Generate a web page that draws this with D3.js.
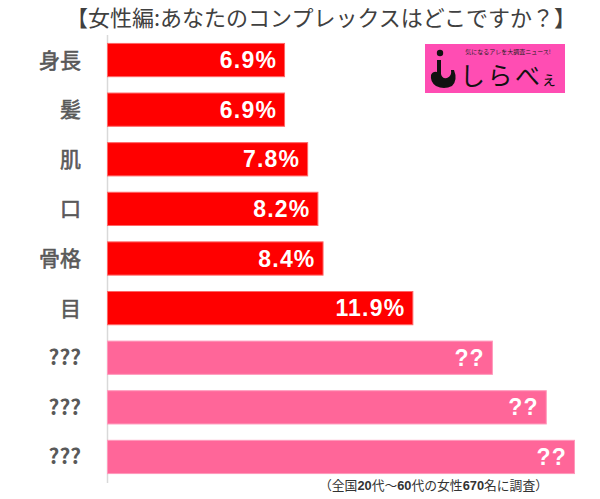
<!DOCTYPE html>
<html><head><meta charset="utf-8">
<script src="https://cdn.jsdelivr.net/npm/d3@7"></script>
<style>body{margin:0;background:#fff}svg{display:block}</style>
</head><body>
<script>
const title = "【女性編:あなたのコンプレックスはどこですか？】";
const categories = ["身長","髪","肌","口","骨格","目","???","???","???"];
const values = [6.9, 6.9, 7.8, 8.2, 8.4, 11.9, 15.0, 17.1, 18.2];
const valueLabels = ["6.9%","6.9%","7.8%","8.2%","8.4%","11.9%","??","??","??"];
const hidden = [false,false,false,false,false,false,true,true,true];
const footnoteParts = [["（全国",false],["20",true],["代～",false],["60",true],["代の女性",false],["670",true],["名に調査）",false]];

const W = 600, H = 499;
const svg = d3.select("body").append("svg").attr("width", W).attr("height", H);
const font = "'Noto Sans CJK JP', 'Noto Sans', sans-serif";
const latin = "'Liberation Sans', Arial, sans-serif";

const x = d3.scaleLinear().domain([0, 18.2]).range([107, 574]);
const y = d3.scaleBand().domain(d3.range(categories.length)).range([34.5, 482.5]).paddingInner(0.33).paddingOuter(0.18);

// title
svg.append("text").attr("x", 321).attr("y", 26).attr("text-anchor", "middle")
  .attr("font-family", font).attr("font-size", 22).attr("fill", "#404040")
  .text(title);

// axis line
svg.append("line").attr("x1", 107.5).attr("x2", 107.5).attr("y1", 35).attr("y2", 483)
  .attr("stroke", "#d9d9d9").attr("stroke-width", 1.5);

const g = svg.append("g");
g.selectAll("rect").data(values).join("rect")
  .attr("x", x(0) + 0.5)
  .attr("y", (d,i) => y(i))
  .attr("width", d => x(d) - x(0))
  .attr("height", y.bandwidth())
  .attr("fill", (d,i) => hidden[i] ? "#FF6699" : "#FF0000")
  .attr("stroke", (d,i) => hidden[i] ? "#FF99BB" : "#FF6666")
  .attr("stroke-width", 1);

g.selectAll("text.val").data(values).join("text").attr("class","val")
  .attr("x", d => x(d) - 7)
  .attr("y", (d,i) => y(i) + y.bandwidth()/2 + 8)
  .attr("text-anchor", "end")
  .attr("font-family", latin).attr("font-weight", "bold")
  .attr("font-size", 23).attr("letter-spacing", 1.2).attr("fill", "#fff")
  .text((d,i) => valueLabels[i]);

g.selectAll("text.cat").data(categories).join("text").attr("class","cat")
  .attr("x", 81)
  .attr("y", (d,i) => y(i) + y.bandwidth()/2 + 7.5)
  .attr("text-anchor", "end")
  .attr("font-family", font)
  .attr("font-weight", (d,i) => hidden[i] ? "bold" : "normal")
  .attr("stroke", (d,i) => hidden[i] ? "none" : "#595959")
  .attr("stroke-width", 0.6)
  .attr("font-size", 21).attr("fill", "#595959")
  .text(d => d);

// footnote
const fn = svg.append("text").attr("x", 548).attr("y", 490).attr("text-anchor", "end")
  .attr("font-family", font).attr("font-size", 12.8).attr("fill", "#333");
fn.selectAll("tspan").data(footnoteParts).join("tspan")
  .attr("font-weight", d => d[1] ? "bold" : "normal")
  .attr("font-family", d => d[1] ? latin : font)
  .text(d => d[0]);

// logo
const lg = svg.append("g");
lg.append("rect").attr("x", 425).attr("y", 44).attr("width", 140).attr("height", 49).attr("fill", "#FF4DB3");
lg.append("circle").attr("cx", 440).attr("cy", 53).attr("r", 3.2).attr("fill", "#111");
lg.append("path").attr("d", "M437,60 L441,60 L441,74 Q442,79 447,78 Q452,76 451,70 L454,70 Q458,80 452,86 Q444,90 436,86 Q430,82 431,75 Q433,71 437,72 Z").attr("fill", "#111");
lg.append("text").attr("x", 508).attr("y", 54).attr("text-anchor", "middle")
  .attr("font-family", font).attr("font-size", 6).attr("fill", "#222").text("気になるアレを大調査ニュース!");
lg.append("text").attr("x", 460).attr("y", 85)
  .attr("font-family", font).attr("font-size", 25).attr("fill", "#111").attr("textLength", 80)
  .text("しらべ");
lg.append("text").attr("x", 541).attr("y", 85)
  .attr("font-family", font).attr("font-size", 16).attr("fill", "#111").text("ぇ");
</script>
</body></html>
